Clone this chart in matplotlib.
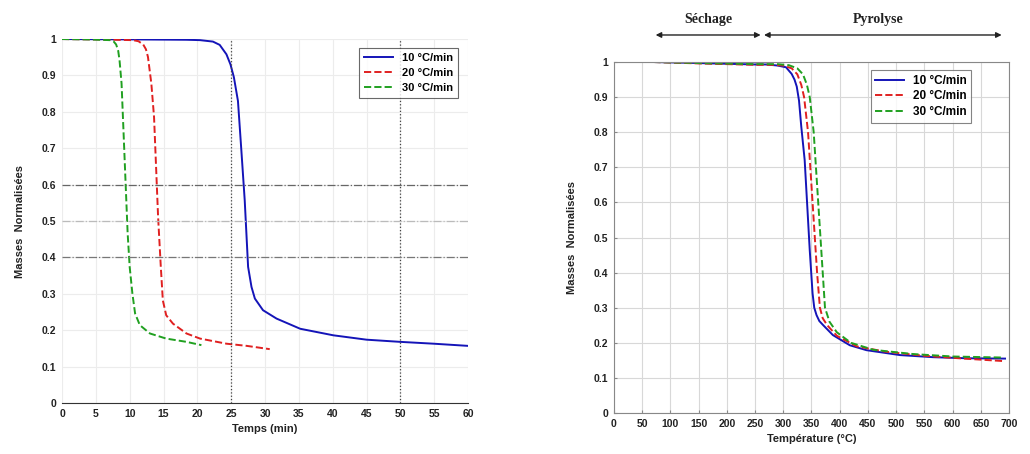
import numpy as np
import matplotlib.pyplot as plt

# --- données ---
labels = ['10 °C/min', '20 °C/min', '30 °C/min']

# masse normalisée vs temps (min)
t10 = [0, 10, 18.4, 20.4, 22.3, 23.3, 24.3, 24.9, 25.4, 26.0, 26.5, 27.0, 27.5, 28.0, 28.5, 29.7, 31.7, 35.2, 40.1, 45, 50, 54.9, 60]
m10 = [1.0, 0.999, 0.998, 0.997, 0.993, 0.984, 0.958, 0.93, 0.895, 0.83, 0.695, 0.557, 0.374, 0.319, 0.287, 0.255, 0.232, 0.204, 0.186, 0.174, 0.168, 0.163, 0.157]
t20 = [0, 5, 10.5, 11.3, 12.0, 12.4, 12.7, 13.2, 13.6, 13.9, 14.2, 14.6, 14.9, 15.4, 16.4, 18.4, 20.4, 24.3, 27.3, 30.7]
m20 = [1.0, 0.999, 0.997, 0.994, 0.985, 0.972, 0.951, 0.878, 0.786, 0.649, 0.511, 0.374, 0.282, 0.241, 0.218, 0.191, 0.177, 0.163, 0.157, 0.148]
t30 = [0, 4, 7.1, 7.6, 8.0, 8.3, 8.5, 8.8, 9.1, 9.4, 9.7, 10.0, 10.4, 10.8, 11.5, 13.0, 15.4, 18.4, 20.6]
m30 = [1.0, 0.999, 0.997, 0.994, 0.985, 0.968, 0.942, 0.878, 0.741, 0.603, 0.466, 0.374, 0.301, 0.246, 0.214, 0.191, 0.177, 0.168, 0.159]

# masse normalisée vs température (°C)
T10 = [70, 150, 250, 270, 290, 305, 315, 320, 324, 328, 332, 338, 342, 347, 352, 355, 359, 364, 371, 388, 418, 447.5, 507, 566, 625, 693]
M10 = [1.0, 0.997, 0.993, 0.993, 0.99, 0.985, 0.966, 0.95, 0.93, 0.89, 0.816, 0.721, 0.607, 0.464, 0.341, 0.3, 0.279, 0.262, 0.25, 0.222, 0.193, 0.179, 0.165, 0.159, 0.156, 0.155]
T20 = [70, 150, 250, 280, 300, 315, 325, 332, 337, 344, 348, 352, 356, 360, 365, 370, 378, 395, 430, 480, 550, 620, 690]
M20 = [1.0, 0.996, 0.992, 0.992, 0.99, 0.982, 0.965, 0.935, 0.9, 0.8, 0.7, 0.6, 0.5, 0.4, 0.3, 0.27, 0.25, 0.22, 0.19, 0.175, 0.163, 0.155, 0.148]
T30 = [70, 150, 250, 290, 310, 325, 335, 342, 347, 354, 358, 362, 366, 370, 374, 382, 395, 420, 460, 530, 600, 690]
M30 = [1.0, 0.997, 0.994, 0.994, 0.991, 0.982, 0.965, 0.935, 0.9, 0.8, 0.7, 0.6, 0.5, 0.4, 0.3, 0.26, 0.23, 0.2, 0.18, 0.168, 0.161, 0.158]

colors = ['#1414b8', '#e02020', '#20a020']
styles = ['-', '--', '--']

plt.rcParams['font.family'] = ['Liberation Sans', 'DejaVu Sans']
fig = plt.figure(figsize=(10.3, 4.54), dpi=100)

# === panneau gauche : temps ===
ax1 = fig.add_axes([0.0602, 0.1123, 0.3942, 0.8017])
for t, m, c, s, lab in zip([t10, t20, t30], [m10, m20, m30], colors, styles, labels):
    ax1.plot(t, m, s, color=c, lw=1.4, label=lab)
ax1.set_xlim(0, 60)
ax1.set_ylim(0, 1)
ax1.set_xticks(np.arange(0, 61, 5))
ax1.set_yticks(np.arange(0, 1.01, 0.1))
ax1.set_yticklabels(['0', '0.1', '0.2', '0.3', '0.4', '0.5', '0.6', '0.7', '0.8', '0.9', '1'])
ax1.grid(True, color='#ececec', lw=0.8)
for x in [25, 50]:
    ax1.axvline(x, color='#444444', ls=':', lw=0.9)
for y, c in [(0.4, '#777777'), (0.5, '#bbbbbb'), (0.6, '#666666')]:
    ax1.axhline(y, color=c, ls='-.', lw=0.9)
for sp in ['top', 'right', 'left']:
    ax1.spines[sp].set_visible(False)
ax1.spines['bottom'].set_color('#333333')
ax1.tick_params(axis='both', labelsize=7.5, length=0, pad=4)
for lbl in ax1.get_xticklabels() + ax1.get_yticklabels():
    lbl.set_fontweight('bold')
    lbl.set_color('#222222')
ax1.set_xlabel('Temps (min)', fontsize=8, fontweight='bold', color='#222222')
ax1.set_ylabel('Masses  Normalisées', fontsize=8, fontweight='bold', color='#222222', labelpad=12)
leg1 = ax1.legend(loc='upper right', bbox_to_anchor=(0.99, 0.992), fontsize=8, frameon=True,
                  fancybox=False, edgecolor='#444444', handlelength=2.6, borderpad=0.45,
                  labelspacing=0.45)
leg1.get_frame().set_linewidth(0.8)
for txt in leg1.get_texts():
    txt.set_fontweight('bold')

# === panneau droit : température ===
ax2 = fig.add_axes([0.596, 0.0903, 0.3836, 0.7731])
for T, M, c, s, lab in zip([T10, T20, T30], [M10, M20, M30], colors, styles, labels):
    ax2.plot(T, M, s, color=c, lw=1.4, label=lab)
ax2.set_xlim(0, 700)
ax2.set_ylim(0, 1)
ax2.set_xticks(np.arange(0, 701, 50))
ax2.set_yticks(np.arange(0, 1.01, 0.1))
ax2.set_yticklabels(['0', '0.1', '0.2', '0.3', '0.4', '0.5', '0.6', '0.7', '0.8', '0.9', '1'])
ax2.grid(True, color='#d8d8d8', lw=0.8)
for sp in ax2.spines.values():
    sp.set_color('#888888')
ax2.tick_params(axis='both', labelsize=7.5, length=2, color='#888888', direction='in', pad=4)
for lbl in ax2.get_xticklabels() + ax2.get_yticklabels():
    lbl.set_fontweight('bold')
    lbl.set_color('#222222')
ax2.set_xlabel('Température (°C)', fontsize=8, fontweight='bold', color='#222222')
ax2.set_ylabel('Masses  Normalisées', fontsize=8, fontweight='bold', color='#222222', labelpad=12)
leg2 = ax2.legend(loc='upper right', bbox_to_anchor=(0.92, 0.994), fontsize=8.5, frameon=True,
                  fancybox=False, edgecolor='#666666', handlelength=2.4, borderpad=0.4,
                  labelspacing=0.3)
leg2.get_frame().set_linewidth(0.8)
for txt in leg2.get_texts():
    txt.set_fontweight('bold')

# flèches Séchage / Pyrolyse
arrow = dict(arrowstyle='<|-|>', color='#222222', lw=1.0, mutation_scale=8, shrinkA=0, shrinkB=0)
ax2.annotate('', xy=(74, 1.077), xytext=(260, 1.077), xycoords='data', arrowprops=arrow,
             annotation_clip=False)
ax2.annotate('', xy=(266, 1.077), xytext=(687, 1.077), xycoords='data', arrowprops=arrow,
             annotation_clip=False)
ax2.text(167, 1.12, 'Séchage', ha='center', va='center', fontsize=10, fontweight='bold',
         family='Liberation Serif', color='#222222', clip_on=False)
ax2.text(469, 1.12, 'Pyrolyse', ha='center', va='center', fontsize=10, fontweight='bold',
         family='Liberation Serif', color='#222222', clip_on=False)

fig.savefig('out.png', dpi=100)
